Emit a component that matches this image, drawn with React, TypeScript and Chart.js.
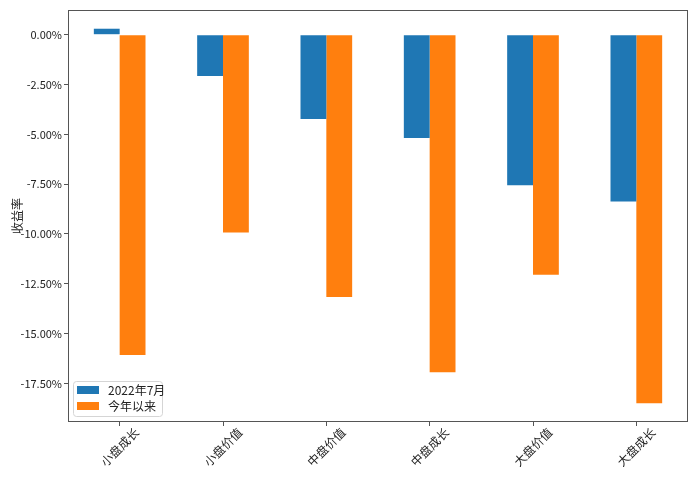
import React, { useEffect, useRef } from "react";
import { Chart, registerables } from "chart.js";

Chart.register(...registerables);

const categories = ["小盘成长", "小盘价值", "中盘价值", "中盘成长", "大盘价值", "大盘成长"];
const seriesNames = ["2022年7月", "今年以来"];
const july2022 = [0.3, -2.07, -4.23, -5.19, -7.56, -8.37];
const yearToDate = [-16.08, -9.93, -13.16, -16.94, -12.05, -18.5];
const seriesColors = ["#1f77b4", "#ff7f0e"];
const yAxisTitle = "收益率";
const yMin = -19.44;
const yMax = 1.24;
const yStep = 2.5;

const FONT = "'Noto Sans CJK SC', 'DejaVu Sans', sans-serif";

const decorPlugin = {
  id: "decor",
  afterDraw(chart: any) {
    const { ctx, chartArea } = chart;
    const { left, right, top, bottom } = chartArea;
    ctx.save();
    ctx.strokeStyle = "#555";
    ctx.lineWidth = 1;
    ctx.strokeRect(left + 0.5, top + 0.5, right - left - 1, bottom - top - 1);

    const xs = chart.scales.x;
    ctx.fillStyle = "#222";
    ctx.font = `12px ${FONT}`;
    ctx.textAlign = "center";
    ctx.textBaseline = "middle";
    categories.forEach((c, i) => {
      const x = xs.getPixelForTick(i);
      ctx.save();
      ctx.translate(x, bottom + 25);
      ctx.rotate(-Math.PI / 4);
      ctx.fillText(c, 0, 0);
      ctx.restore();
    });

    ctx.save();
    ctx.translate(17, (top + bottom) / 2);
    ctx.rotate(-Math.PI / 2);
    ctx.font = `12px ${FONT}`;
    ctx.fillText(yAxisTitle, 0, 0);
    ctx.restore();

    const lx = left + 5;
    const ly = bottom - 41;
    const lw = 89;
    const lh = 35;
    ctx.beginPath();
    if (ctx.roundRect) ctx.roundRect(lx + 0.5, ly + 0.5, lw, lh, 3);
    else ctx.rect(lx + 0.5, ly + 0.5, lw, lh);
    ctx.fillStyle = "rgba(255,255,255,0.8)";
    ctx.fill();
    ctx.strokeStyle = "#d5d5d5";
    ctx.stroke();
    ctx.textAlign = "left";
    ctx.textBaseline = "middle";
    ctx.font = `12px ${FONT}`;
    seriesNames.forEach((name, i) => {
      const ry = ly + 5 + i * 16;
      ctx.fillStyle = seriesColors[i];
      ctx.fillRect(lx + 4, ry, 22, 8);
      ctx.fillStyle = "#222";
      ctx.fillText(name, lx + 35, ry + 4);
    });
    ctx.restore();
  },
};

export default function App() {
  const canvasRef = useRef<HTMLCanvasElement>(null);

  useEffect(() => {
    document.body.style.margin = "0";
    const canvas = canvasRef.current;
    if (!canvas) return;
    const chart = new Chart(canvas, {
      type: "bar",
      data: {
        labels: categories,
        datasets: [
          { label: seriesNames[0], data: july2022, backgroundColor: seriesColors[0], categoryPercentage: 0.5, barPercentage: 1.0 },
          { label: seriesNames[1], data: yearToDate, backgroundColor: seriesColors[1], categoryPercentage: 0.5, barPercentage: 1.0 },
        ],
      },
      options: {
        animation: false,
        responsive: false,
        devicePixelRatio: 1,
        layout: { padding: { left: 0, top: 10, right: 12, bottom: 0 } },
        plugins: { legend: { display: false }, tooltip: { enabled: false } },
        scales: {
          x: {
            grid: { display: true, offset: false, drawOnChartArea: false, tickLength: 4, color: "#555" },
            border: { display: false },
            ticks: { callback: () => "", maxRotation: 0 },
            afterFit: (s: any) => { s.height = 55; },
          },
          y: {
            min: yMin,
            max: yMax,
            grid: { display: true, drawOnChartArea: false, tickLength: 4, color: "#555" },
            border: { display: false },
            ticks: {
              stepSize: yStep,
              includeBounds: false,
              padding: 2,
              color: "#222",
              font: { family: FONT, size: 11 },
              callback: (v: any) => Number(v).toFixed(2) + "%",
            },
            afterFit: (s: any) => { s.width = 68; },
          },
        },
      },
      plugins: [decorPlugin],
    } as any);
    return () => chart.destroy();
  }, []);

  return (
    <div style={{ width: 700, height: 477, background: "#fff" }}>
      <canvas ref={canvasRef} width={700} height={477} style={{ display: "block", width: 700, height: 477 }} />
    </div>
  );
}
